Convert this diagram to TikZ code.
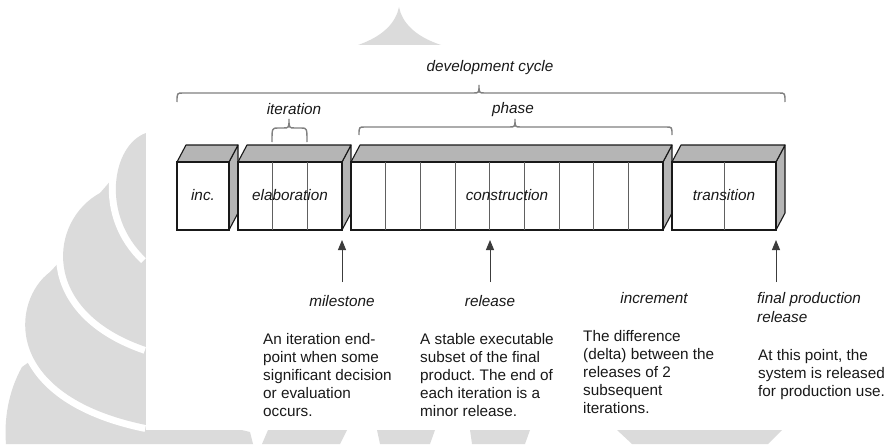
\documentclass[tikz,border=0pt]{standalone}
\usepackage{fontspec}
\setmainfont{Liberation Sans}
\usetikzlibrary{arrows.meta}
\definecolor{wm}{gray}{0.86}
\definecolor{boxtop}{gray}{0.71}
\definecolor{ink}{gray}{0.1}
\newcommand\upbrace[6]{% xL, xR, xm, y0 (ends), y1 (line), yt (tip)
  \draw[bracestyle] (#1,#4) .. controls (#1,#5) .. (#1+6,#5) -- (#3-6,#5)
    .. controls (#3,#5) .. (#3,#6) .. controls (#3,#5) .. (#3+6,#5)
    -- (#2-6,#5) .. controls (#2,#5) .. (#2,#4);}
\frenchspacing
\begin{document}
\begin{tikzpicture}[x=1pt,y=-1pt,
  lbl/.style={font=\fontsize{15.3}{19}\selectfont\itshape\frenchspacing, text=ink, inner sep=0pt},
  desc/.style={font=\fontsize{15.3}{18}\selectfont\frenchspacing, text=ink, inner sep=0pt, align=left, anchor=north west},
  face/.style={draw=ink, line width=1.1pt, fill=white},
  sidefill/.style={draw=ink, line width=1.1pt, fill=boxtop, line join=round},
  divider/.style={draw=gray!75!black, line width=0.8pt},
  bracestyle/.style={draw=gray, line width=1.4pt},
  pointer/.style={draw=ink!85, line width=1pt, -{Triangle[length=10pt,width=8pt]}},
  halo/.style={draw=white, line width=14pt},
]
\useasboundingbox (0,0) rectangle (888,444);
% ---------- watermark ----------
\fill[wm] (358,45) .. controls (384,36) and (396,22) .. (399,7) .. controls (402,22) and (414,36) .. (441,45) -- cycle;
\fill[wm] (22,367) .. controls (8,392) and (4,420) .. (6,444) -- (253,444) -- (250,432) -- (200,420) -- (60,340) -- cycle;
\draw[halo] (50,272) .. controls (12,300) and (0,395) .. (146,425);
\fill[wm] (50,272) .. controls (12,300) and (0,395) .. (146,425) -- (220,425) -- (220,250) -- (80,240) -- cycle;
\draw[halo] (100,193) .. controls (50,220) and (38,310) .. (146,347);
\fill[wm] (100,193) .. controls (50,220) and (38,310) .. (146,347) -- (220,347) -- (220,150) -- (120,170) -- cycle;
\draw[halo] (146,133) .. controls (112,145) and (100,215) .. (146,258);
\fill[wm] (146,133) .. controls (112,145) and (100,215) .. (146,258) -- (220,258) -- (220,133) -- cycle;
\fill[wm] (262,444) -- (268,430) -- (347,430) -- (340,444) -- cycle;
\fill[wm] (380,444) -- (377,430) -- (435,430) -- (430,444) -- cycle;
\fill[wm] (472,444) -- (470,430) -- (530,430) -- (525,444) -- cycle;
\fill[wm] (632,444) -- (617,430) -- (782,430) -- (768,444) -- cycle;
\fill[white] (146,50) rectangle (888,430);
% ---------- boxes ----------
% inc.
\draw[sidefill] (229,162) -- (238,145) -- (238,213) -- (229,230) -- cycle;
\draw[sidefill] (177,162) -- (186,145) -- (238,145) -- (229,162) -- cycle;
\draw[face] (177,162) rectangle (229,230);
\node[lbl, anchor=base] (inc) at (203,200.5) {inc.};
% elaboration
\draw[sidefill] (342,162) -- (351,145) -- (351,213) -- (342,230) -- cycle;
\draw[sidefill] (238,162) -- (247,145) -- (351,145) -- (342,162) -- cycle;
\draw[face] (238,162) rectangle (342,230);
\foreach \i in {1,2} \draw[divider] ({238+\i*104/3},162) -- ++(0,68);
\node[lbl, anchor=base] (elab) at (290,200.5) {elaboration};
% construction
\draw[sidefill] (663,162) -- (672,145) -- (672,213) -- (663,230) -- cycle;
\draw[sidefill] (351,162) -- (360,145) -- (672,145) -- (663,162) -- cycle;
\draw[face] (351,162) rectangle (663,230);
\foreach \i in {1,...,8} \draw[divider] ({351+\i*312/9},162) -- ++(0,68);
\node[lbl, anchor=base] (cons) at (507,200.5) {construction};
% transition
\draw[sidefill] (776,162) -- (785,145) -- (785,213) -- (776,230) -- cycle;
\draw[sidefill] (672,162) -- (681,145) -- (785,145) -- (776,162) -- cycle;
\draw[face] (672,162) rectangle (776,230);
\draw[divider] (724,162) -- ++(0,68);
\node[lbl, anchor=base] (trans) at (724,200.5) {transition};
% ---------- braces and their labels ----------
\upbrace{177}{785}{479}{102}{93}{85}
\node[lbl, anchor=base] (devcycle) at (490,71.5) {development cycle};
\upbrace{272}{307}{289}{142}{128}{119}
\node[lbl, anchor=base] (iter) at (294,114) {iteration};
\upbrace{359}{672}{515}{135}{127}{119}
\node[lbl, anchor=base] (phase) at (513,113) {phase};
% ---------- pointers ----------
\coordinate (msTip) at (342,240); \coordinate (msTail) at (342,282);
\coordinate (relTip) at (490,240); \coordinate (relTail) at (490,282);
\coordinate (finTip) at (776,240); \coordinate (finTail) at (776,282);
\draw[pointer] (msTail) -- (msTip);
\draw[pointer] (relTail) -- (relTip);
\draw[pointer] (finTail) -- (finTip);
% ---------- labels ----------
\node[lbl, anchor=base] (milestone) at (342,306) {milestone};
\node[lbl, anchor=base] (release) at (490,306) {release};
\node[lbl, anchor=base] (increment) at (654,303) {increment};
\node[lbl, align=left, anchor=north west] (final) at (757,289.7) {\strut final production\\release};
% ---------- descriptions ----------
\node[desc] (d1) at (263,331.4) {\strut An iteration end-\\point when some\\significant decision\\or evaluation\\occurs.};
\node[desc] (d2) at (420,331.4) {\strut A stable executable\\subset of the final\\product. The end of\\each iteration is a\\minor release.};
\node[desc] (d3) at (583,328.4) {\strut The difference\\(delta) between the\\releases of 2\\subsequent\\iterations.};
\node[desc] (d4) at (758,347.4) {\strut At this point, the\\system is released\\for production use.};
\end{tikzpicture}
\end{document}
